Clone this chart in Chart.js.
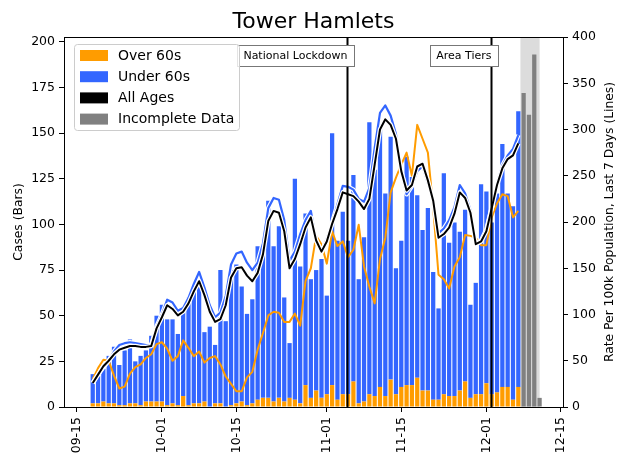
<!DOCTYPE html>
<html>
<head>
<meta charset="utf-8">
<title>Tower Hamlets</title>
<script src="https://cdn.jsdelivr.net/npm/chart.js"></script>
<style>
    body { margin: 0; background: #fff; }
    canvas { display: block; }
</style>
</head>
<body>
<canvas id="myChart" width="619" height="459"></canvas>
<script>
// daily cases, first bar is 2020-09-18, last complete day 2020-12-07
var firstDate = '2020-09-18';
var over60 = [2, 2, 3, 2, 2, 1, 1, 2, 2, 1,
    3, 3, 3, 3, 1, 2, 1, 6, 1, 2,
    2, 3, 0, 2, 2, 0, 1, 2, 3, 1,
    2, 4, 5, 5, 3, 5, 3, 5, 4, 2,
    12, 5, 9, 5, 7, 12, 4, 7, 7, 14,
    2, 3, 7, 6, 11, 6, 15, 7, 11, 12,
    12, 16, 9, 9, 4, 4, 7, 6, 6, 9,
    14, 5, 7, 7, 13, 7, 8, 11, 11, 4, 11];
var under60 = [16, 15, 18, 26, 31, 22, 30, 35, 23, 27,
    28, 36, 47, 53, 47, 46, 39, 46, 59, 61,
    65, 38, 44, 32, 73, 47, 74, 76, 63, 50,
    57, 84, 81, 108, 85, 94, 57, 30, 121, 75,
    94, 65, 66, 76, 54, 138, 87, 100, 84, 113,
    68, 90, 149, 124, 144, 111, 133, 69, 80, 125,
    114, 100, 88, 100, 70, 50, 121, 84, 95, 87,
    94, 51, 61, 115, 105, 94, 109, 133, 106, 106, 151];
// incomplete data, 2020-12-08 .. 2020-12-11
var incompleteDate = '2020-12-08';
var incomplete = [172, 160, 193, 5];

// rate per 100k, last 7 days
var rateAll = [26, 35, 44, 50, 57, 62, 64, 66, 66, 65,
    65, 66, 85, 97, 110, 106, 99, 103, 112, 125,
    136, 121, 103, 92, 95, 110, 140, 150, 151, 142,
    136, 145, 165, 201, 212, 210, 190, 150, 160, 176,
    194, 205, 180, 168, 179, 198, 214, 232, 230, 228,
    222, 214, 225, 262, 300, 311, 305, 290, 255, 234,
    240, 260, 263, 245, 223, 183, 187, 194, 209, 232,
    226, 210, 176, 179, 190, 215, 240, 258, 268, 272, 285];
var rateUnder60 = [26, 35, 43, 50, 60, 67, 69, 70, 69, 68,
    67, 67, 87, 100, 116, 113, 104, 107, 118, 133,
    146, 129, 110, 97, 102, 120, 154, 166, 168, 156,
    148, 156, 177, 215, 226, 224, 202, 158, 168, 187,
    202, 212, 180, 167, 182, 199, 219, 239, 238, 235,
    225, 222, 237, 280, 318, 326, 315, 295, 254, 230,
    239, 255, 260, 242, 224, 188, 193, 202, 216, 240,
    231, 213, 176, 180, 192, 216, 242, 261, 272, 279, 294];
var rateOver60 = [30, 42, 51, 50, 34, 20, 22, 36, 43, 46,
    53, 57, 68, 70, 63, 50, 55, 72, 64, 55,
    60, 48, 53, 55, 46, 33, 25, 17, 17, 32,
    38, 62, 80, 99, 103, 102, 92, 92, 101, 88,
    136, 150, 185, 176, 155, 190, 174, 179, 162, 170,
    197, 152, 130, 112, 160, 183, 232, 248, 262, 275,
    250, 305, 290, 275, 215, 143, 138, 128, 152, 162,
    186, 185, 183, 175, 175, 205, 220, 230, 228, 205, 212];

var tickDates = ['2020-09-15', '2020-10-01', '2020-10-15', '2020-11-01', '2020-11-15', '2020-12-01', '2020-12-15'];
var tickLabels = ['09-15', '10-01', '10-15', '11-01', '11-15', '12-01', '12-15'];
var casesTicks = [0, 25, 50, 75, 100, 125, 150, 175, 200];
var rateTicks = [0, 50, 100, 150, 200, 250, 300, 350, 400];
var eventDates = ['2020-11-05', '2020-12-02'];
var eventLabels = ['National Lockdown', 'Area Tiers'];
var legendLabels = ['Over 60s', 'Under 60s', 'All Ages', 'Incomplete Data'];

var ORANGE = '#ff9c00';
var BLUE = '#3366ff';
var GREY = '#808080';
var FONT = "'DejaVu Sans', sans-serif";

function dayNum(s) {
    var p = s.split('-');
    return Date.UTC(+p[0], +p[1] - 1, +p[2]) / 86400000;
}

function points(start, values) {
    var d0 = dayNum(start);
    return values.map(function (v, i) { return { x: d0 + i, y: v }; });
}

Chart.defaults.font.family = FONT;
Chart.defaults.font.size = 12.5;
Chart.defaults.color = '#000';

var extras = {
    id: 'extras',
    beforeDatasetsDraw: function (chart) {
        var ctx = chart.ctx, x = chart.scales.x, a = chart.chartArea;
        var x0 = x.getPixelForValue(dayNum(incompleteDate) - 0.6);
        var x1 = x.getPixelForValue(dayNum(incompleteDate) + incomplete.length - 1);
        ctx.save();
        ctx.fillStyle = '#dcdcdc';
        ctx.fillRect(x0, a.top, x1 - x0, a.bottom - a.top);
        ctx.restore();
    },
    afterDatasetsDraw: function (chart) {
        var ctx = chart.ctx, x = chart.scales.x, a = chart.chartArea;
        ctx.save();
        // event lines with labels
        ctx.font = '11px ' + FONT;
        eventDates.forEach(function (d, i) {
            var px = Math.round(x.getPixelForValue(dayNum(d)) - 1) + 0.5;
            ctx.strokeStyle = '#000';
            ctx.lineWidth = 2;
            ctx.beginPath();
            ctx.moveTo(px, a.top);
            ctx.lineTo(px, a.bottom);
            ctx.stroke();
            var w = ctx.measureText(eventLabels[i]).width;
            var bw = Math.round(w + 13), bh = 21;
            var bx = Math.round(px + 6 - bw) + 0.5, by = 45.5;
            ctx.fillStyle = '#fff';
            ctx.fillRect(bx, by, bw, bh);
            ctx.strokeStyle = '#777';
            ctx.lineWidth = 1;
            ctx.strokeRect(bx, by, bw, bh);
            ctx.fillStyle = '#000';
            ctx.textAlign = 'right';
            ctx.textBaseline = 'middle';
            ctx.fillText(eventLabels[i], px, by + bh / 2 + 0.5);
        });

        // legend
        var colors = [ORANGE, BLUE, '#000', GREY];
        var lx = 74.5, ly = 44.5, lw = 165, lh = 86, r = 3;
        ctx.beginPath();
        ctx.moveTo(lx + r, ly);
        ctx.arcTo(lx + lw, ly, lx + lw, ly + lh, r);
        ctx.arcTo(lx + lw, ly + lh, lx, ly + lh, r);
        ctx.arcTo(lx, ly + lh, lx, ly, r);
        ctx.arcTo(lx, ly, lx + lw, ly, r);
        ctx.closePath();
        ctx.fillStyle = 'rgba(255,255,255,0.8)';
        ctx.fill();
        ctx.strokeStyle = '#cccccc';
        ctx.lineWidth = 1;
        ctx.stroke();
        ctx.font = '14px ' + FONT;
        ctx.textAlign = 'left';
        ctx.textBaseline = 'middle';
        legendLabels.forEach(function (lab, i) {
            var cy = 55.5 + i * 21.2;
            ctx.fillStyle = colors[i];
            ctx.fillRect(80, cy - 5.5, 28, 11);
            ctx.fillStyle = '#000';
            ctx.fillText(lab, 118, cy + 0.5);
        });
        ctx.restore();
    },
    afterDraw: function (chart) {
        var ctx = chart.ctx, a = chart.chartArea;
        ctx.save();
        // top spine
        ctx.strokeStyle = '#000';
        ctx.lineWidth = 1;
        ctx.beginPath();
        ctx.moveTo(a.left, a.top + 0.5);
        ctx.lineTo(a.right, a.top + 0.5);
        ctx.stroke();
        // title
        ctx.fillStyle = '#000';
        ctx.textAlign = 'center';
        ctx.textBaseline = 'alphabetic';
        ctx.font = '22px ' + FONT;
        ctx.fillText('Tower Hamlets', (a.left + a.right) / 2, 28);
        // axis titles
        ctx.font = '12.3px ' + FONT;
        ctx.textBaseline = 'middle';
        ctx.translate(19, (a.top + a.bottom) / 2);
        ctx.rotate(-Math.PI / 2);
        ctx.fillText('Cases (Bars)', 0, 0);
        ctx.rotate(Math.PI / 2);
        ctx.translate(-19, -(a.top + a.bottom) / 2);
        ctx.translate(610, (a.top + a.bottom) / 2);
        ctx.rotate(-Math.PI / 2);
        ctx.fillText('Rate Per 100k Population, Last 7 Days (Lines)', 0, 0);
        ctx.restore();
    }
};

var lineBase = {
    type: 'line',
    yAxisID: 'y2',
    pointRadius: 0,
    fill: false,
    tension: 0,
    borderJoinStyle: 'round'
};

var ctx = document.getElementById('myChart').getContext('2d');
var myNewChart = new Chart(ctx, {
    type: 'bar',
    data: {
        datasets: [
            Object.assign({}, lineBase, { label: 'All Ages', data: points(firstDate, rateAll), borderColor: '#000', borderWidth: 2, order: 0 }),
            Object.assign({}, lineBase, { label: 'halo1', data: points(firstDate, rateAll), borderColor: '#fff', borderWidth: 4.5, order: 1 }),
            Object.assign({}, lineBase, { label: 'Under 60s rate', data: points(firstDate, rateUnder60), borderColor: BLUE, borderWidth: 2.2, order: 2 }),
            Object.assign({}, lineBase, { label: 'halo2', data: points(firstDate, rateUnder60), borderColor: '#fff', borderWidth: 4.5, order: 3 }),
            Object.assign({}, lineBase, { label: 'Over 60s rate', data: points(firstDate, rateOver60), borderColor: ORANGE, borderWidth: 2, order: 4 }),
            { label: 'Incomplete Data', data: points(incompleteDate, incomplete), backgroundColor: GREY, order: 5 },
            { label: 'Over 60s', data: points(firstDate, over60), backgroundColor: ORANGE, order: 6 },
            { label: 'Under 60s', data: points(firstDate, under60), backgroundColor: BLUE, order: 7 }
        ]
    },
    options: {
        responsive: false,
        animation: false,
        devicePixelRatio: 1,
        layout: { padding: { top: 37, left: 0, right: 0, bottom: 0 } },
        datasets: { bar: { categoryPercentage: 1, barPercentage: 0.8, borderWidth: 0 } },
        plugins: { legend: { display: false }, title: { display: false }, tooltip: { enabled: false } },
        scales: {
            x: {
                type: 'linear',
                stacked: true,
                offset: false,
                min: dayNum('2020-09-15') - 2.4,
                max: dayNum('2020-12-15') + 0.4,
                grid: { offset: false, drawOnChartArea: false, drawTicks: true, tickLength: 5, tickColor: '#000' },
                border: { display: true, color: '#000', width: 1 },
                afterBuildTicks: function (scale) {
                    scale.ticks = tickDates.map(function (d) { return { value: dayNum(d) }; });
                },
                ticks: {
                    autoSkip: false, minRotation: 90, maxRotation: 90, padding: 5,
                    callback: function (value, index) { return tickLabels[index]; }
                },
                afterFit: function (scale) { scale.height = 52; }
            },
            y: {
                position: 'left',
                stacked: true,
                min: 0,
                max: 202.65,
                grid: { drawOnChartArea: false, drawTicks: true, tickLength: 5, tickColor: '#000' },
                border: { display: true, color: '#000', width: 1 },
                afterBuildTicks: function (scale) {
                    scale.ticks = casesTicks.map(function (v) { return { value: v }; });
                },
                ticks: { padding: 4 },
                afterFit: function (scale) { scale.width = 64; }
            },
            y2: {
                position: 'right',
                stacked: false,
                min: 0,
                max: 400,
                grid: { drawOnChartArea: false, drawTicks: true, tickLength: 5, tickColor: '#000' },
                border: { display: true, color: '#000', width: 1 },
                afterBuildTicks: function (scale) {
                    scale.ticks = rateTicks.map(function (v) { return { value: v }; });
                },
                ticks: { padding: 4 },
                afterFit: function (scale) { scale.width = 56; }
            }
        }
    },
    plugins: [extras]
});
</script>
</body>
</html>
